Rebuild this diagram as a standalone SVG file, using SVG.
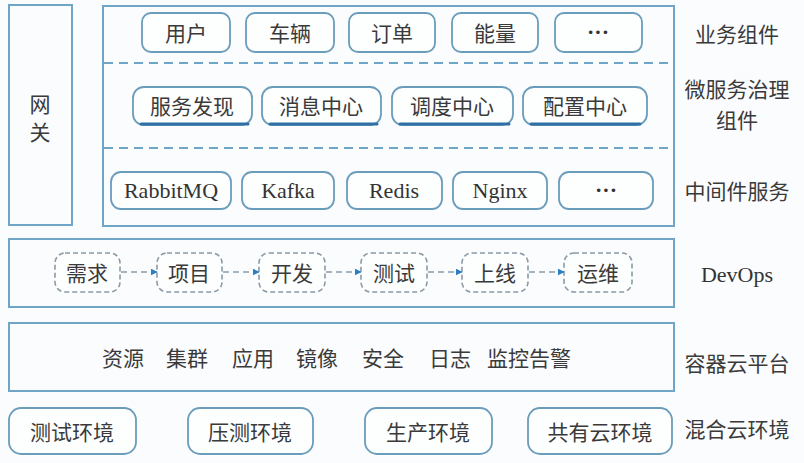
<svg xmlns="http://www.w3.org/2000/svg" width="804" height="463" viewBox="0 0 804 463">
<defs>
<style>
.frame{fill:none;stroke:#6fa6c6;stroke-width:2}
.node{fill:#fdfefe;stroke:#6a9cbb;stroke-width:1.8}
.dnode{fill:#fdfefe;stroke:#8a9aa6;stroke-width:1.6;stroke-dasharray:5 3}
.sep{stroke:#6fa6c6;stroke-width:1.8;stroke-dasharray:9 6;fill:none}
.ul{stroke:#2f6fa6;stroke-width:3;stroke-linecap:round}
.cjk{font-family:"Noto Sans CJK SC","Noto Sans",sans-serif;font-size:21px;fill:#3a3a3a;text-anchor:middle;dominant-baseline:central}
.ser{font-family:"Liberation Serif",serif;font-size:22px;fill:#333;text-anchor:middle;dominant-baseline:central}
.dots{font-family:"Liberation Serif",serif;font-size:22px;fill:#333;text-anchor:middle;font-weight:bold}
.lbl{font-family:"Noto Sans CJK SC","Noto Sans",sans-serif;font-size:21px;fill:#3a3a3a;text-anchor:middle;dominant-baseline:central}
.arr{stroke:#8a9aa6;stroke-width:1.6;stroke-dasharray:6 4;fill:none}
</style>
<marker id="ah" viewBox="0 0 10 10" refX="9" refY="5" markerWidth="7" markerHeight="7" orient="auto" markerUnits="userSpaceOnUse">
<path d="M0,0 L10,5 L0,10 z" fill="#2a7fc4"/>
</marker>
</defs>
<rect width="804" height="463" fill="#fbfcfd"/>

<g id="gateway">
<rect class="frame" x="9" y="5" width="63" height="220"/>
<text class="cjk" x="40" y="103" font-size="22">网</text>
<text class="cjk" x="40" y="131" font-size="22">关</text>
</g>

<g id="upper-frame">
<rect class="frame" x="103" y="6" width="571" height="220"/>
<line class="sep" x1="104" y1="63" x2="673" y2="63"/>
<line class="sep" x1="104" y1="148" x2="673" y2="148"/>
</g>

<g id="biz-user"><rect class="node" x="142" y="13" width="88" height="39" rx="9"/><text class="cjk" x="186" y="32">用户</text></g>
<g id="biz-vehicle"><rect class="node" x="246" y="13" width="88" height="39" rx="9"/><text class="cjk" x="290" y="32">车辆</text></g>
<g id="biz-order"><rect class="node" x="349" y="13" width="86" height="39" rx="9"/><text class="cjk" x="392" y="32">订单</text></g>
<g id="biz-energy"><rect class="node" x="452" y="13" width="86" height="39" rx="9"/><text class="cjk" x="495" y="32">能量</text></g>
<g id="biz-more"><rect class="node" x="555" y="13" width="87" height="39" rx="9"/><text class="dots" x="598" y="39">···</text></g>

<g id="ms-discovery"><rect class="node" x="133" y="87" width="119" height="38" rx="11"/><line class="ul" x1="141" y1="124" x2="248" y2="124"/><text class="cjk" x="192" y="105" font-size="22">服务发现</text></g>
<g id="ms-message"><rect class="node" x="262" y="87" width="119" height="38" rx="11"/><line class="ul" x1="270" y1="124" x2="377" y2="124"/><text class="cjk" x="321" y="105" font-size="22">消息中心</text></g>
<g id="ms-schedule"><rect class="node" x="392" y="87" width="121" height="38" rx="11"/><line class="ul" x1="400" y1="124" x2="509" y2="124"/><text class="cjk" x="452" y="105" font-size="22">调度中心</text></g>
<g id="ms-config"><rect class="node" x="523" y="87" width="124" height="38" rx="11"/><line class="ul" x1="531" y1="124" x2="640" y2="124"/><text class="cjk" x="585" y="105" font-size="22">配置中心</text></g>

<g id="mw-rabbitmq"><rect class="node" x="111" y="172" width="120" height="37" rx="10"/><text class="ser" x="171" y="190">RabbitMQ</text></g>
<g id="mw-kafka"><rect class="node" x="242" y="172" width="92" height="37" rx="10"/><text class="ser" x="288" y="190">Kafka</text></g>
<g id="mw-redis"><rect class="node" x="347" y="172" width="95" height="37" rx="10"/><text class="ser" x="394" y="190">Redis</text></g>
<g id="mw-nginx"><rect class="node" x="453" y="172" width="94" height="37" rx="10"/><text class="ser" x="500" y="190">Nginx</text></g>
<g id="mw-more"><rect class="node" x="559" y="172" width="94" height="37" rx="10"/><text class="dots" x="606" y="197">···</text></g>

<g id="devops-frame"><rect class="frame" x="9" y="239" width="665" height="68"/></g>
<g id="dv-req"><rect class="dnode" x="55" y="253" width="65" height="39" rx="10"/><text class="cjk" x="87" y="272">需求</text></g>
<g id="dv-proj"><rect class="dnode" x="157" y="253" width="65" height="39" rx="10"/><text class="cjk" x="189" y="272">项目</text></g>
<g id="dv-dev"><rect class="dnode" x="259" y="253" width="66" height="39" rx="10"/><text class="cjk" x="292" y="272">开发</text></g>
<g id="dv-test"><rect class="dnode" x="361" y="253" width="66" height="39" rx="10"/><text class="cjk" x="394" y="272">测试</text></g>
<g id="dv-online"><rect class="dnode" x="462" y="253" width="66" height="39" rx="10"/><text class="cjk" x="495" y="272">上线</text></g>
<g id="dv-ops"><rect class="dnode" x="564" y="253" width="68" height="39" rx="10"/><text class="cjk" x="598" y="272">运维</text></g>

<g id="connectors">
<line class="arr" x1="121" y1="272" x2="157" y2="272" marker-end="url(#ah)"/>
<line class="arr" x1="223" y1="272" x2="259" y2="272" marker-end="url(#ah)"/>
<line class="arr" x1="326" y1="272" x2="361" y2="272" marker-end="url(#ah)"/>
<line class="arr" x1="428" y1="272" x2="462" y2="272" marker-end="url(#ah)"/>
<line class="arr" x1="529" y1="272" x2="564" y2="272" marker-end="url(#ah)"/>
</g>

<g id="container-platform">
<rect class="frame" x="9" y="323" width="665" height="68"/>
<text class="cjk" x="123" y="357" font-size="22">资源</text>
<text class="cjk" x="187" y="357" font-size="22">集群</text>
<text class="cjk" x="253" y="357" font-size="22">应用</text>
<text class="cjk" x="317" y="357" font-size="22">镜像</text>
<text class="cjk" x="383" y="357" font-size="22">安全</text>
<text class="cjk" x="450" y="357" font-size="22">日志</text>
<text class="cjk" x="529" y="357" font-size="22">监控告警</text>
</g>

<g id="env-test"><rect class="node" x="9" y="408" width="127" height="46" rx="12"/><text class="cjk" x="72" y="431" font-size="22">测试环境</text></g>
<g id="env-stress"><rect class="node" x="188" y="408" width="125" height="46" rx="12"/><text class="cjk" x="250" y="431" font-size="22">压测环境</text></g>
<g id="env-prod"><rect class="node" x="365" y="408" width="127" height="46" rx="12"/><text class="cjk" x="428" y="431" font-size="22">生产环境</text></g>
<g id="env-public"><rect class="node" x="528" y="408" width="144" height="46" rx="12"/><text class="cjk" x="600" y="431" font-size="22">共有云环境</text></g>

<g id="labels">
<text class="lbl" x="737" y="33">业务组件</text>
<text class="lbl" x="737" y="88">微服务治理</text>
<text class="lbl" x="737" y="119">组件</text>
<text class="lbl" x="737" y="190">中间件服务</text>
<text class="ser" x="737" y="274" font-size="21">DevOps</text>
<text class="lbl" x="737" y="362">容器云平台</text>
<text class="lbl" x="737" y="428">混合云环境</text>
</g>
</svg>
